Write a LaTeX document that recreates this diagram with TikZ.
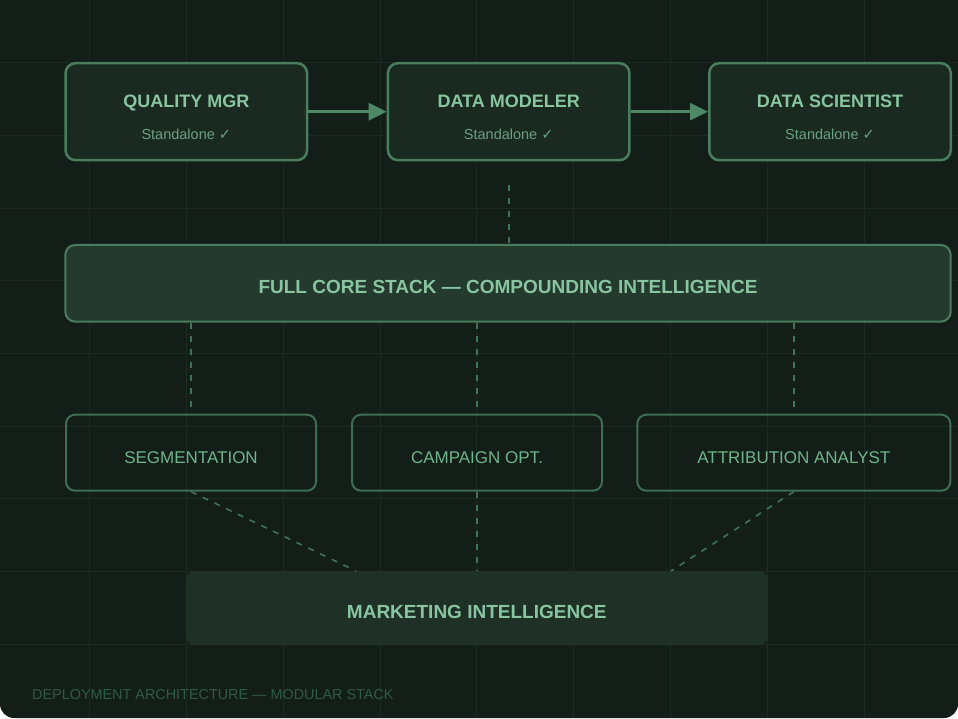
\documentclass[tikz,border=0pt]{standalone}
\usepackage{fontspec}
\setmainfont{Liberation Sans}
\newfontfamily\symfont{DejaVu Sans}
\usetikzlibrary{arrows.meta}
\definecolor{bgc}{HTML}{131E19}
\definecolor{gridc}{HTML}{1B2A23}
\definecolor{boxfill}{HTML}{1A2A21}
\definecolor{boxbord}{HTML}{4A7D5E}
\definecolor{titlec}{HTML}{88C5A0}
\definecolor{subc}{HTML}{6B9F82}
\definecolor{corefill}{HTML}{243A2F}
\definecolor{rowbord}{HTML}{3F6D54}
\definecolor{rowtext}{HTML}{6EB58B}
\definecolor{mktfill}{HTML}{213429}
\definecolor{dashc}{HTML}{42725A}
\definecolor{footc}{HTML}{2F5B45}
\definecolor{arrowc}{HTML}{4E8966}
\tikzset{
  topbox/.style={draw=boxbord, line width=2.5pt, fill=boxfill, rounded corners=10pt,
    minimum width=241.5pt, minimum height=97pt, inner sep=0pt},
  corebox/.style={draw=boxbord, line width=2pt, fill=corefill, rounded corners=10pt,
    minimum width=885.4pt, minimum height=76.7pt, inner sep=0pt},
  rowbox/.style={draw=rowbord, line width=2pt, rounded corners=9pt,
    minimum height=76pt, inner sep=0pt},
  mktbox/.style={fill=mktfill, fill opacity=0.9, rounded corners=10pt,
    minimum width=582.3pt, minimum height=74pt, inner sep=0pt},
  titletxt/.style={font=\bfseries\fontsize{18}{20}\selectfont, text=titlec, anchor=base, inner sep=0pt},
  coretxt/.style={font=\bfseries\fontsize{19}{21}\selectfont, text=titlec, anchor=base, inner sep=0pt},
  subtxt/.style={font=\fontsize{14.5}{16}\selectfont, text=subc, anchor=base, inner sep=0pt},
  rowtxt/.style={font=\fontsize{17}{19}\selectfont, text=rowtext, anchor=base, inner sep=0pt},
  foottxt/.style={font=\fontsize{14.4}{16}\selectfont, text=footc, anchor=base west, inner sep=0pt},
  flowarrow/.style={draw=arrowc, line width=2.5pt, -{Triangle[length=18pt,width=17pt]}},
  dashline/.style={draw=dashc, line width=1.6pt, dash pattern=on 6pt off 7pt}
}
\begin{document}
\begin{tikzpicture}[x=1pt,y=-1pt]
\useasboundingbox (0,0) rectangle (958,718);
\fill[white] (0,0) rectangle (958,718);
\fill[bgc] (0,0) -- (0,704) arc[start angle=180,end angle=90,radius=14] -- (944,718)
  arc[start angle=90,end angle=0,radius=14] -- (958,0) -- cycle;
% grid
\foreach \i in {0,...,8} {
  \draw[gridc, line width=1pt] ({89.3+96.9*\i},0) -- ({89.3+96.9*\i},718);
  \draw[gridc, line width=1pt] (0,{62.7+72.7*\i}) -- (958,{62.7+72.7*\i});
}
% top boxes
\node[topbox] (qm) at (186.3,111.7) {};
\node[topbox] (dm) at (508.7,111.7) {};
\node[topbox] (ds) at (830,111.7) {};
\node[titletxt] (qmt) at (186.3,107.3) {QUALITY MGR};
\node[titletxt] (dmt) at (508.7,107.3) {DATA MODELER};
\node[titletxt] (dst) at (830,107.3) {DATA SCIENTIST};
\node[subtxt] (qms) at (186.3,139.5) {Standalone {\symfont ✓}};
\node[subtxt] (dms) at (508.7,139.5) {Standalone {\symfont ✓}};
\node[subtxt] (dss) at (830,139.5) {Standalone {\symfont ✓}};
\draw[flowarrow] (qm.east) -- (dm.west);
\draw[flowarrow] (dm.east) -- (ds.west);
% core
\node[corebox] (core) at (508,283.3) {};
\node[coretxt] (coret) at (508,293.3) {FULL CORE STACK — COMPOUNDING INTELLIGENCE};
\draw[dashline, shorten <=24pt] (dm.south) -- (dm.south |- core.north);
% rows
\node[rowbox, minimum width=250pt] (seg) at (191,452.7) {};
\node[rowbox, minimum width=250pt] (camp) at (477,452.7) {};
\node[rowbox, minimum width=313pt] (attr) at (793.8,452.7) {};
\node[rowtxt] (segt) at (191,463.3) {SEGMENTATION};
\node[rowtxt] (campt) at (477,463.3) {CAMPAIGN OPT.};
\node[rowtxt] (attrt) at (793.8,463.3) {ATTRIBUTION ANALYST};
\draw[dashline] (seg.north |- core.south) -- (seg.north);
\draw[dashline] (camp.north |- core.south) -- (camp.north);
\draw[dashline] (attr.north |- core.south) -- (attr.north);
% marketing
\node[mktbox] (mkt) at (476.8,608) {};
\node[coretxt] (mktt) at (476.8,618.3) {MARKETING INTELLIGENCE};
\coordinate (mkA) at (356,571);
\coordinate (mkB) at (671,571);
\draw[dashline] (seg.south) -- (mkA);
\draw[dashline] (camp.south) -- (camp.south |- mkt.north);
\draw[dashline] (attr.south) -- (mkB);
% footer
\node[foottxt] (foot) at (32,699.3) {DEPLOYMENT ARCHITECTURE — MODULAR STACK};
\end{tikzpicture}
\end{document}
